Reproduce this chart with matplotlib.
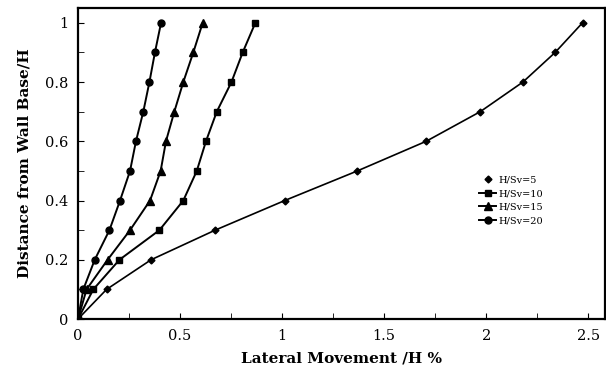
import matplotlib.pyplot as plt
from matplotlib.lines import Line2D
from matplotlib.ticker import MultipleLocator

depth = [0, 0.1, 0.2, 0.3, 0.4, 0.5, 0.6, 0.7, 0.8, 0.9, 1.0]

# lateral movement /H % for each H/Sv ratio
hsv5 = [0, 0.14, 0.358, 0.672, 1.013, 1.369, 1.706, 1.971, 2.180, 2.338, 2.472]
hsv10 = [0, 0.075, 0.203, 0.399, 0.516, 0.582, 0.627, 0.680, 0.752, 0.807, 0.869]
hsv15 = [0, 0.042, 0.145, 0.255, 0.353, 0.405, 0.431, 0.472, 0.516, 0.565, 0.611]
hsv20 = [0, 0.026, 0.082, 0.154, 0.206, 0.255, 0.284, 0.320, 0.350, 0.377, 0.407]

labels = ['H/Sv=5', 'H/Sv=10', 'H/Sv=15', 'H/Sv=20']

plt.rcParams['font.family'] = 'DejaVu Serif'

fig = plt.figure(figsize=(6.06, 3.78), dpi=100)
ax = fig.add_axes([0.1287, 0.156, 0.869, 0.823])

ax.plot(hsv5, depth, color='black', lw=1.2, marker='D', ms=3.5)
ax.plot(hsv10, depth, color='black', lw=1.4, marker='s', ms=5)
ax.plot(hsv15, depth, color='black', lw=1.4, marker='^', ms=5.5)
ax.plot(hsv20, depth, color='black', lw=1.4, marker='o', ms=5)

ax.set_xlim(0, 2.58)
ax.set_ylim(0, 1.05)
ax.xaxis.set_major_locator(MultipleLocator(0.5))
ax.xaxis.set_minor_locator(MultipleLocator(0.25))
ax.yaxis.set_major_locator(MultipleLocator(0.2))
ax.yaxis.set_minor_locator(MultipleLocator(0.1))
ax.set_xticks([0, 0.5, 1, 1.5, 2, 2.5])
ax.set_xticklabels(['0', '0.5', '1', '1.5', '2', '2.5'])
ax.set_yticks([0, 0.2, 0.4, 0.6, 0.8, 1])
ax.set_yticklabels(['0', '0.2', '0.4', '0.6', '0.8', '1'])
ax.tick_params(which='both', direction='in', top=False, right=False, labelsize=10.5)
ax.tick_params(which='major', length=4, pad=7)
ax.tick_params(which='minor', length=4)
for s in ax.spines.values():
    s.set_linewidth(1.6)

ax.set_xlabel('Lateral Movement /H %', fontsize=11, fontweight='bold', labelpad=6)
ax.set_ylabel('Distance from Wall Base/H', fontsize=11, fontweight='bold', labelpad=10)

handles = [
    Line2D([], [], color='black', ls='none', marker='D', ms=3.5),
    Line2D([], [], color='black', lw=1.4, marker='s', ms=5),
    Line2D([], [], color='black', lw=1.4, marker='^', ms=5.5),
    Line2D([], [], color='black', lw=1.4, marker='o', ms=5),
]
ax.legend(handles, labels, loc='upper left', bbox_to_anchor=(0.755, 0.475),
          frameon=False, fontsize=7, handlelength=1.7, handletextpad=0.2,
          labelspacing=0.5, borderaxespad=0)

fig.savefig('out.png', dpi=100)
